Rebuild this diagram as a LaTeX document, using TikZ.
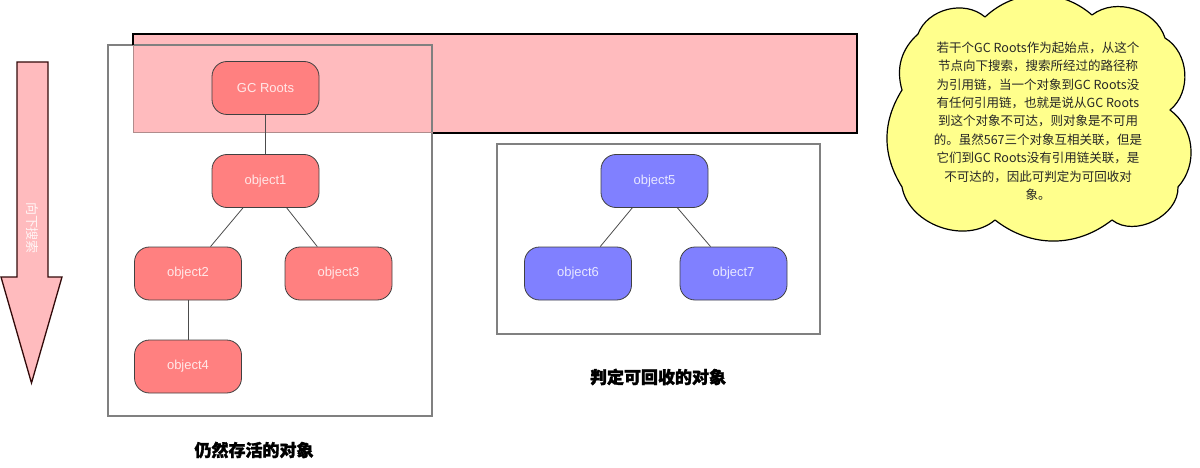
\documentclass[tikz,border=0pt]{standalone}
\usepackage{fontspec}
\setmainfont{Liberation Sans}
\newfontfamily\cjk{Noto Sans CJK SC}
\newfontfamily\cjkheavy[BoldFeatures={FakeBold=1.6}]{Noto Sans CJK SC}

\definecolor{bandpink}{RGB}{255,187,190}
\definecolor{livered}{RGB}{255,128,128}
\definecolor{deadblue}{RGB}{128,128,255}
\definecolor{cloudyellow}{RGB}{255,255,140}
\definecolor{boxgray}{RGB}{128,128,128}
\definecolor{livetext}{RGB}{255,232,232}
\definecolor{deadtext}{RGB}{232,232,255}
\definecolor{bandedge}{RGB}{176,140,140}
\definecolor{arrowedge}{RGB}{50,10,10}

\begin{document}
\begin{tikzpicture}[x=1pt,y=-1pt,
  obj/.style={draw=black!75, line width=0.8pt, rounded corners=15pt,
    minimum width=107pt, minimum height=53pt, inner sep=0pt,
    font=\fontsize{13}{15}\selectfont},
  live/.style={obj, fill=livered, text=livetext},
  dead/.style={obj, fill=deadblue, text=deadtext},
  link/.style={draw=black!70, line width=0.8pt},
  group/.style={draw=boxgray, line width=1.3pt},
  caption/.style={font=\cjkheavy\bfseries\fontsize{17}{20}\selectfont}
]
\useasboundingbox (0,0) rectangle (1200,468);

% search direction arrow
\draw[fill=bandpink, draw=arrowedge, line width=1.3pt, line join=miter]
  (17,62) -- (48,62) -- (48,277) -- (62,277) -- (31.5,383) -- (1,277)
  -- (17,277) -- cycle;
\node[rotate=-90, text=white!85!bandpink, font=\cjk\fontsize{13}{14}\selectfont]
  (dirlabel) at (32,228) {向下搜索};

% GC roots band
\fill[bandpink] (133,34) rectangle (857,133);

% object groups
\draw[group] (108,45) rectangle (432,416);
\draw[group] (497,144) rectangle (820,334);

% band outline
\draw[black, line width=2.2pt, line join=miter] (133,45) -- (133,34) -- (857,34) -- (857,133) -- (433,133);
\draw[bandedge, line width=1pt] (433,133) -- (133,133) -- (133,45);

% reachable objects
\node[live] (root) at (265.5,88) {GC Roots};
\node[live] (o1) at (265.5,181) {object1};
\node[live] (o2) at (188,273.5) {object2};
\node[live] (o3) at (338.5,273.5) {object3};
\node[live] (o4) at (188,366.5) {object4};
\draw[link] (root) -- (o1);
\draw[link] (o1) -- (o2);
\draw[link] (o1) -- (o3);
\draw[link] (o2) -- (o4);

% unreachable objects
\node[dead] (o5) at (654.5,181) {object5};
\node[dead] (o6) at (578,273.5) {object6};
\node[dead] (o7) at (733.5,273.5) {object7};
\draw[link] (o5) -- (o6);
\draw[link] (o5) -- (o7);

% captions
\node[caption] (alive) at (254,450) {仍然存活的对象};
\node[caption] (dead) at (658,377) {判定可回收的对象};

% explanation cloud, one arc per puff
\draw[black, line width=1.2pt, fill=cloudyellow, line join=round]
  (918,34) to[bend left=55] (985,17)
  to[bend left=42] (1092,15)
  to[bend left=55] (1165,38)
  to[bend left=55] (1170,110)
  to[bend left=48] (1178,187)
  to[bend left=65] (1112,220)
  to[bend left=38] (995,220)
  to[bend left=60] (902,187)
  to[bend left=32] (902,90)
  to[bend left=32] (918,34) -- cycle;
\node[align=center, font=\cjk\fontsize{12.5}{18.4}\selectfont, text=black!85]
  (notetext) at (1038,121) {若干个GC Roots作为起始点，从这个\\
节点向下搜索，搜索所经过的路径称\\
为引用链，当一个对象到GC Roots没\\
有任何引用链，也就是说从GC Roots\\
到这个对象不可达，则对象是不可用\\
的。虽然567三个对象互相关联，但是\\
它们到GC Roots没有引用链关联，是\\
不可达的，因此可判定为可回收对\\
象。};
\end{tikzpicture}
\end{document}
